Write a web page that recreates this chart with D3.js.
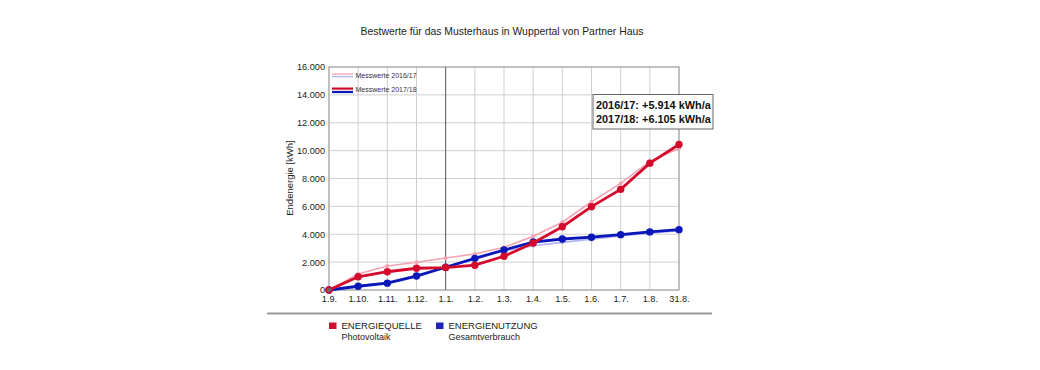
<!DOCTYPE html>
<html>
<head>
<meta charset="utf-8">
<script src="https://cdn.jsdelivr.net/npm/d3@7"></script>
<style>
  body { margin: 0; background: #fff; font-family: "Liberation Sans", Arial, sans-serif; }
  svg text { font-family: "Liberation Sans", Arial, sans-serif; }
</style>
</head>
<body>
<svg id="chart" width="1040" height="370"></svg>
<script>
// month marks on the x axis
const months = ["1.9.", "1.10.", "1.11.", "1.12.", "1.1.", "1.2.", "1.3.", "1.4.", "1.5.", "1.6.", "1.7.", "1.8.", "31.8."];
const yTicks = [0, 2000, 4000, 6000, 8000, 10000, 12000, 14000, 16000];

// cumulative kWh
const pv1718 = [0, 950, 1310, 1560, 1610, 1780, 2420, 3370, 4540, 5980, 7220, 9100, 10440];
const use1718 = [0, 270, 490, 1000, 1630, 2270, 2870, 3440, 3660, 3790, 3970, 4170, 4330];
const pv1617 = [0, 1150, 1720, 1990, 2300, 2580, 3060, 3850, 4860, 6330, 7650, 9230, 10160];
const use1617 = [0, 300, 560, 1050, 1650, 2250, 2800, 3180, 3420, 3650, 3870, 4080, 4250];

const notes = ["2016/17: +5.914 kWh/a", "2017/18: +6.105 kWh/a"];

const svg = d3.select("#chart");
const fmt = d3.format(",d");
const deNum = v => fmt(v).replace(/,/g, ".");

// dims
const plot = { left: 329, right: 679, top: 67, bottom: 290 };

const x = d3.scalePoint().domain(months).range([plot.left, plot.right]);
const y = d3.scaleLinear().domain([0, 16000]).range([plot.bottom, plot.top]);

// title
svg.append("text")
  .attr("x", 502).attr("y", 35)
  .attr("text-anchor", "middle")
  .style("font-size", "10.4px")
  .attr("fill", "#222")
  .text("Bestwerte für das Musterhaus in Wuppertal von Partner Haus");

// grid
svg.append("g")
  .selectAll("line")
  .data(yTicks)
  .join("line")
  .attr("x1", plot.left).attr("x2", plot.right)
  .attr("y1", d => y(d)).attr("y2", d => y(d))
  .attr("stroke", "#cfcfcf").attr("stroke-width", 1);

svg.append("g")
  .selectAll("line")
  .data(months)
  .join("line")
  .attr("x1", d => x(d)).attr("x2", d => x(d))
  .attr("y1", plot.top).attr("y2", plot.bottom)
  .attr("stroke", d => d === "1.1." ? "#555" : "#cfcfcf")
  .attr("stroke-width", 1);

// frame
svg.append("rect")
  .attr("x", plot.left).attr("y", plot.top)
  .attr("width", plot.right - plot.left).attr("height", plot.bottom - plot.top)
  .attr("fill", "none").attr("stroke", "#999").attr("stroke-width", 1);

// axes
const yAxis = svg.append("g")
  .attr("transform", `translate(${plot.left},0)`)
  .call(d3.axisLeft(y).tickValues(yTicks).tickSize(0).tickPadding(4).tickFormat(deNum));
yAxis.select(".domain").remove();
yAxis.selectAll("text").style("font-size", "9.2px").attr("fill", "#222");

const xAxis = svg.append("g")
  .attr("transform", `translate(0,${plot.bottom})`)
  .call(d3.axisBottom(x).tickSize(0).tickPadding(5));
xAxis.select(".domain").remove();
xAxis.selectAll("text").style("font-size", "9.2px").attr("fill", "#222");

svg.append("text")
  .attr("transform", "rotate(-90)")
  .attr("x", -178).attr("y", 293)
  .attr("text-anchor", "middle")
  .style("font-size", "9.5px")
  .attr("fill", "#222")
  .text("Endenergie [kWh]");

// series
const series = [
  { values: pv1617, color: "#f3a3b3", width: 1.6, r: 2 },
  { values: use1617, color: "#b0b4f2", width: 1.6, r: 2 },
  { values: use1718, color: "#0a17b8", width: 2.8, r: 3.7 },
  { values: pv1718, color: "#d40a2c", width: 2.8, r: 3.7 }
];

const lineGen = d3.line()
  .x((d, i) => x(months[i]))
  .y(d => y(d));

series.forEach(s => {
  const g = svg.append("g");
  g.append("path")
    .attr("d", lineGen(s.values))
    .attr("fill", "none")
    .attr("stroke", s.color)
    .attr("stroke-width", s.width);
  g.selectAll("circle")
    .data(s.values)
    .join("circle")
    .attr("cx", (d, i) => x(months[i]))
    .attr("cy", d => y(d))
    .attr("r", s.r)
    .attr("fill", s.color);
});

// origin dot
svg.append("circle").attr("cx", x(months[0])).attr("cy", y(0)).attr("r", 2.2).attr("fill", "#666");

// legend inside plot
const leg = svg.append("g").attr("transform", `translate(332,74)`);
leg.append("line").attr("x1", 0).attr("x2", 21).attr("y1", 0).attr("y2", 0).attr("stroke", "#f3a3b3").attr("stroke-width", 1.3);
leg.append("line").attr("x1", 0).attr("x2", 21).attr("y1", 2.6).attr("y2", 2.6).attr("stroke", "#b0b4f2").attr("stroke-width", 1.3);
leg.append("text").attr("x", 23.5).attr("y", 4).style("font-size", "7px").attr("fill", "#333").text("Messwerte 2016/17");
leg.append("line").attr("x1", 0).attr("x2", 21).attr("y1", 14.6).attr("y2", 14.6).attr("stroke", "#d40a2c").attr("stroke-width", 2.2);
leg.append("line").attr("x1", 0).attr("x2", 21).attr("y1", 18).attr("y2", 18).attr("stroke", "#0a17b8").attr("stroke-width", 2.2);
leg.append("text").attr("x", 23.5).attr("y", 18).style("font-size", "7px").attr("fill", "#333").text("Messwerte 2017/18");

// annotation box
const box = svg.append("g").attr("transform", "translate(593,94.5)");
box.append("rect")
  .attr("width", 120).attr("height", 34.5)
  .attr("fill", "#fff").attr("stroke", "#666").attr("stroke-width", 1);
box.selectAll("text")
  .data(notes)
  .join("text")
  .attr("x", 3).attr("y", (d, i) => 14.5 + i * 13.5)
  .style("font-size", "10.9px").style("font-weight", "bold")
  .attr("fill", "#111")
  .text(d => d);

// separator
svg.append("line")
  .attr("x1", 267).attr("x2", 712).attr("y1", 313.5).attr("y2", 313.5)
  .attr("stroke", "#999").attr("stroke-width", 2);

// bottom legend
const bottomLegend = [
  { x: 329, color: "#d0102e", title: "ENERGIEQUELLE", sub: "Photovoltaik" },
  { x: 436, color: "#1d25b5", title: "ENERGIENUTZUNG", sub: "Gesamtverbrauch" }
];
bottomLegend.forEach(d => {
  const g = svg.append("g").attr("transform", `translate(${d.x},322.5)`);
  g.append("rect").attr("width", 7.5).attr("height", 6.5).attr("fill", d.color);
  g.append("text").attr("x", 12.5).attr("y", 6.5).style("font-size", "9.5px").attr("fill", "#222").text(d.title);
  g.append("text").attr("x", 12.5).attr("y", 17).style("font-size", "9px").attr("fill", "#222").text(d.sub);
});
</script>
</body>
</html>
